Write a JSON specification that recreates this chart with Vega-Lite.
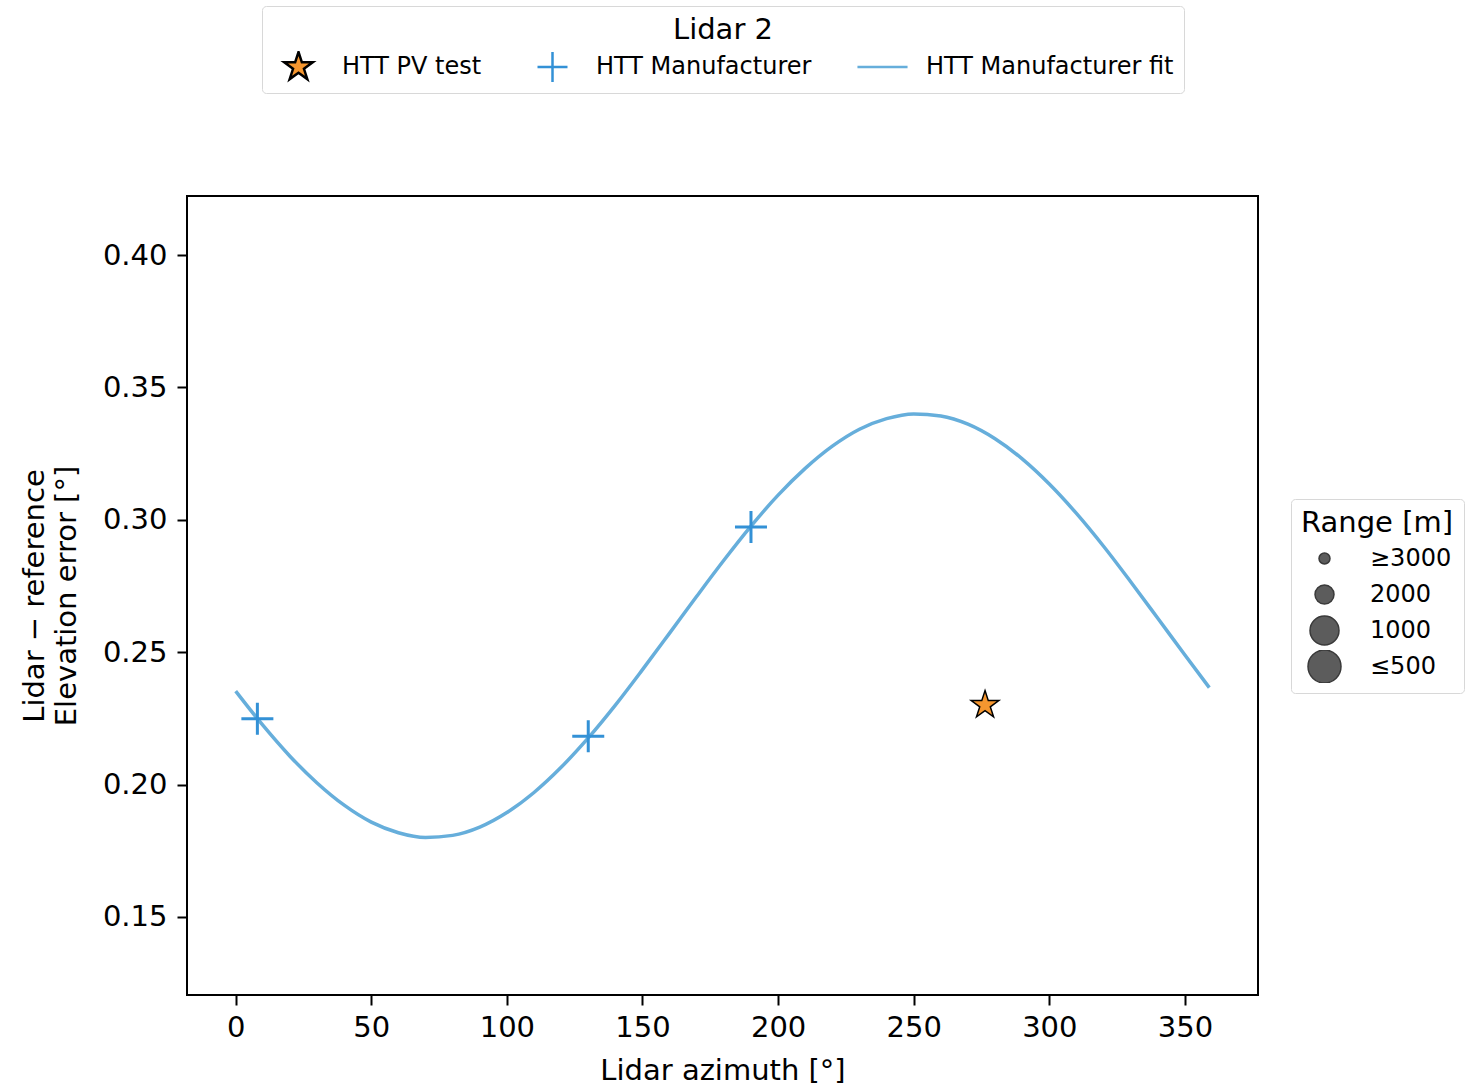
{
  "$schema": "https://vega.github.io/schema/vega-lite/v6.json",
  "width": 1071,
  "height": 799,
  "padding": {"left": 20, "top": 5, "right": 5, "bottom": 5},
  "background": "white",
  "config": {
    "font": "DejaVu Sans",
    "view": {"stroke": "black", "strokeWidth": 2},
    "axis": {
      "labelFont": "DejaVu Sans", "labelFontSize": 29, "labelColor": "black",
      "titleFont": "DejaVu Sans", "titleFontSize": 29, "titleFontWeight": "normal", "titleColor": "black",
      "tickColor": "black", "tickWidth": 2, "tickSize": 10, "domain": false, "grid": false
    },
    "legend": {
      "labelFont": "DejaVu Sans", "labelColor": "black", "labelLimit": 500,
      "titleFont": "DejaVu Sans", "titleFontWeight": "normal", "titleColor": "black"
    }
  },
  "datasets": {
    "fit": [
      {"az": 0, "err": 0.2353}, {"az": 10, "err": 0.2224}, {"az": 20, "err": 0.2107}, {"az": 30, "err": 0.2006},
      {"az": 40, "err": 0.1922}, {"az": 50, "err": 0.1858}, {"az": 60, "err": 0.1818}, {"az": 70, "err": 0.1800},
      {"az": 80, "err": 0.1808}, {"az": 90, "err": 0.1839}, {"az": 100, "err": 0.1894}, {"az": 110, "err": 0.1970},
      {"az": 120, "err": 0.2065}, {"az": 130, "err": 0.2176}, {"az": 140, "err": 0.2300}, {"az": 150, "err": 0.2434},
      {"az": 160, "err": 0.2572}, {"az": 170, "err": 0.2711}, {"az": 180, "err": 0.2847}, {"az": 190, "err": 0.2976},
      {"az": 200, "err": 0.3093}, {"az": 210, "err": 0.3194}, {"az": 220, "err": 0.3278}, {"az": 230, "err": 0.3342},
      {"az": 240, "err": 0.3382}, {"az": 250, "err": 0.3400}, {"az": 260, "err": 0.3392}, {"az": 270, "err": 0.3361},
      {"az": 280, "err": 0.3306}, {"az": 290, "err": 0.3230}, {"az": 300, "err": 0.3135}, {"az": 310, "err": 0.3024},
      {"az": 320, "err": 0.2900}, {"az": 330, "err": 0.2766}, {"az": 340, "err": 0.2628}, {"az": 350, "err": 0.2489},
      {"az": 359, "err": 0.2366}
    ],
    "manufacturer": [
      {"az": 8, "err": 0.2248, "series": "HTT Manufacturer"},
      {"az": 130, "err": 0.2182, "series": "HTT Manufacturer"},
      {"az": 190, "err": 0.2973, "series": "HTT Manufacturer"}
    ],
    "pv": [
      {"az": 276.3, "err": 0.2300, "series": "HTT PV test", "range": "1000"}
    ]
  },
  "layer": [
    {
      "data": {"name": "fit"},
      "mark": {"type": "line", "stroke": "#66aedb", "strokeWidth": 3.5, "interpolate": "monotone", "clip": true},
      "encoding": {
        "x": {"field": "az", "type": "quantitative", "scale": {"domain": [-17.95, 376.95], "nice": false, "zero": false},
              "axis": {"values": [0, 50, 100, 150, 200, 250, 300, 350], "title": "Lidar azimuth [°]", "labelPadding": 8, "titlePadding": 14}},
        "y": {"field": "err", "type": "quantitative", "scale": {"domain": [0.1205, 0.4223], "nice": false, "zero": false},
              "axis": {"values": [0.15, 0.2, 0.25, 0.3, 0.35, 0.4], "format": ".2f", "title": ["Lidar − reference", "Elevation error [°]"], "titleLineHeight": 32, "labelPadding": 10, "titlePadding": 21}}
      }
    },
    {
      "data": {"name": "manufacturer"},
      "mark": {"type": "point", "strokeWidth": 3, "size": 1024, "opacity": 1},
      "encoding": {
        "x": {"field": "az", "type": "quantitative"},
        "y": {"field": "err", "type": "quantitative"},
        "shape": {"field": "series", "type": "nominal",
                  "scale": {"domain": ["HTT PV test", "HTT Manufacturer", "HTT Manufacturer fit"], "range": ["M0,-1L0.225,-0.309L0.951,-0.309L0.363,0.118L0.588,0.809L0,0.382L-0.588,0.809L-0.363,0.118L-0.951,-0.309L-0.225,-0.309Z", "M-1,0L1,0M0,-1L0,1", "M-1.67,0L1.67,0"]},
                  "legend": {
                    "title": "Lidar 2", "orient": "none", "legendX": 75, "legendY": -190, "direction": "horizontal", "columns": 3,
                    "titleFontSize": 29, "titleAnchor": "middle", "titlePadding": 6, "labelFontSize": 24, "labelOffset": 27,
                    "columnPadding": 44, "symbolSize": 900, "symbolOffset": 10, "padding": 10, "clipHeight": 32,
                    "symbolStrokeWidth": 2.5, "symbolOpacity": 1,
                    "strokeColor": "#d8d8d8", "fillColor": "white", "cornerRadius": 4
                  }},
        "fill": {"field": "series", "type": "nominal",
                 "scale": {"domain": ["HTT PV test", "HTT Manufacturer", "HTT Manufacturer fit"], "range": ["#f5962f", "transparent", "transparent"]},
                 "legend": {
                    "title": "Lidar 2", "orient": "none", "legendX": 75, "legendY": -190, "direction": "horizontal", "columns": 3,
                    "titleFontSize": 29, "titleAnchor": "middle", "titlePadding": 6, "labelFontSize": 24, "labelOffset": 27,
                    "columnPadding": 44, "symbolSize": 900, "symbolOffset": 10, "padding": 10, "clipHeight": 32,
                    "symbolStrokeWidth": 2.5, "symbolOpacity": 1,
                    "strokeColor": "#d8d8d8", "fillColor": "white", "cornerRadius": 4
                 }},
        "stroke": {"field": "series", "type": "nominal",
                   "scale": {"domain": ["HTT PV test", "HTT Manufacturer", "HTT Manufacturer fit"], "range": ["black", "#3391d6", "#66aedb"]},
                   "legend": {
                    "title": "Lidar 2", "orient": "none", "legendX": 75, "legendY": -190, "direction": "horizontal", "columns": 3,
                    "titleFontSize": 29, "titleAnchor": "middle", "titlePadding": 6, "labelFontSize": 24, "labelOffset": 27,
                    "columnPadding": 44, "symbolSize": 900, "symbolOffset": 10, "padding": 10, "clipHeight": 32,
                    "symbolStrokeWidth": 2.5, "symbolOpacity": 1,
                    "strokeColor": "#d8d8d8", "fillColor": "white", "cornerRadius": 4
                   }}
      }
    },
    {
      "data": {"name": "pv"},
      "mark": {"type": "point", "strokeWidth": 1.5, "opacity": 1},
      "encoding": {
        "x": {"field": "az", "type": "quantitative"},
        "y": {"field": "err", "type": "quantitative"},
        "shape": {"field": "series", "type": "nominal"},
        "fill": {"field": "series", "type": "nominal"},
        "stroke": {"field": "series", "type": "nominal"},
        "size": {"field": "range", "type": "ordinal",
                 "scale": {"type": "ordinal", "domain": ["≥3000", "2000", "1000", "≤500"], "range": [121, 361, 841, 1089]},
                 "legend": {
                   "title": "Range [m]", "orient": "none", "legendX": 1104, "legendY": 303,
                   "titleFontSize": 29, "titlePadding": 4, "labelFontSize": 24, "labelOffset": 28, "rowPadding": 3, "clipHeight": 33,
                   "symbolOffset": 6, "padding": 10,
                   "symbolType": "circle", "symbolFillColor": "#5c5c5c", "symbolStrokeColor": "#3a3a3a", "symbolStrokeWidth": 1.5, "symbolOpacity": 1,
                   "strokeColor": "#d8d8d8", "fillColor": "white", "cornerRadius": 4
                 }}
      }
    }
  ]
}
